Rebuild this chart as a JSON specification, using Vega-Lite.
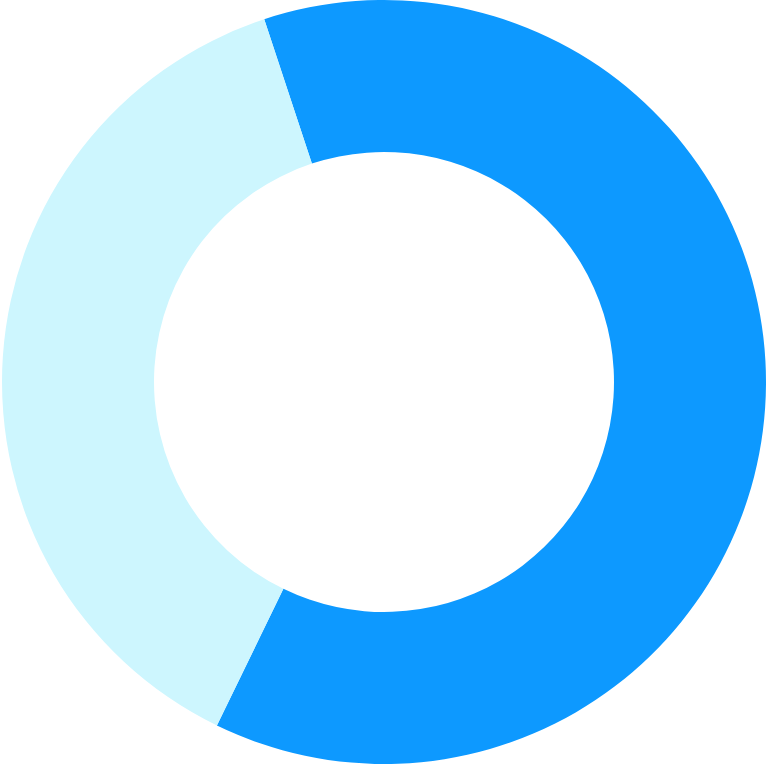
{
  "$schema": "https://vega.github.io/schema/vega-lite/v6.json",
  "autosize": {"type": "fit", "contains": "padding"},
  "width": 768,
  "height": 764,
  "padding": 0,
  "background": "white",
  "view": {"stroke": null},
  "data": {"values": [
    {"category": "A", "value": 62.28, "rank": 1},
    {"category": "B", "value": 37.72, "rank": 2}
  ]},
  "mark": {"type": "arc", "radius": 382, "radius2": 230, "stroke": null},
  "encoding": {
    "theta": {"field": "value", "type": "quantitative", "stack": true, "scale": {"range": [-0.3189, 5.9643]}},
    "order": {"field": "rank", "type": "quantitative"},
    "color": {"field": "category", "type": "nominal", "scale": {"domain": ["A", "B"], "range": ["#0d99ff", "#cdf6fe"]}, "legend": null}
  }
}
